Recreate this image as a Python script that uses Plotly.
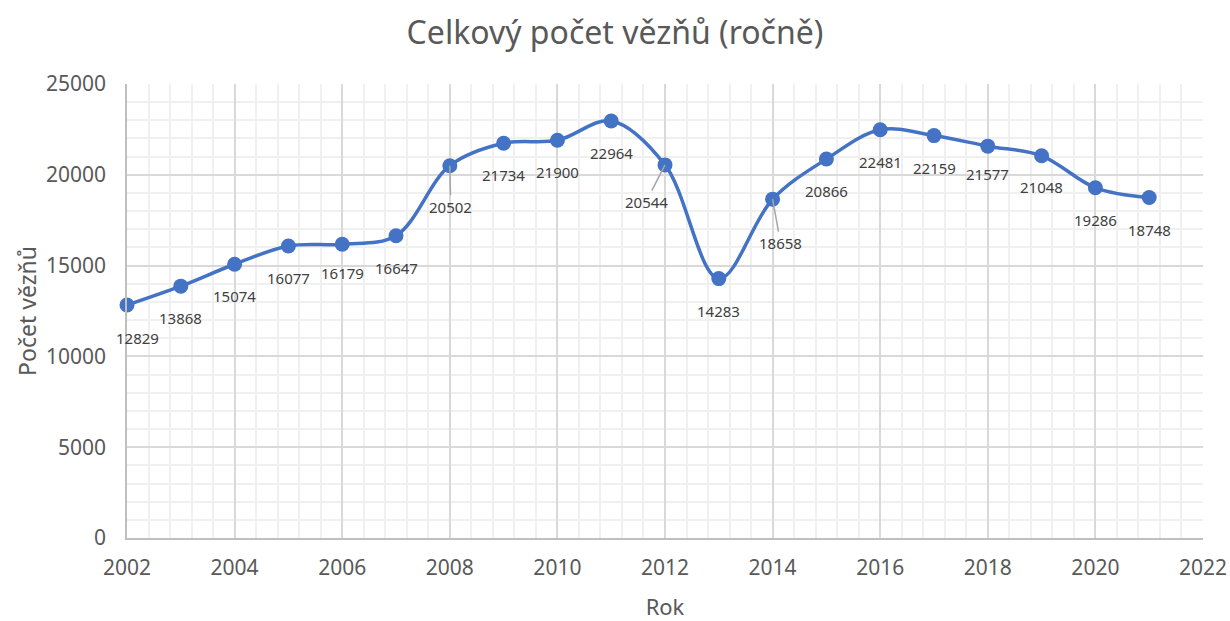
import plotly.graph_objects as go

years = [2002, 2003, 2004, 2005, 2006, 2007, 2008, 2009, 2010, 2011,
         2012, 2013, 2014, 2015, 2016, 2017, 2018, 2019, 2020, 2021]
prisoners = [12829, 13868, 15074, 16077, 16179, 16647, 20502, 21734, 21900, 22964,
             20544, 14283, 18658, 20866, 22481, 22159, 21577, 21048, 19286, 18748]

title_text = "Celkový počet vězňů (ročně)"
x_title = "Rok"
y_title = "Počet vězňů"

# label placement (pixel offsets from point) — style only
default_offset = (0, 32)
label_offsets = {2002: (10, 33), 2006: (0, 29), 2008: (1, 41), 2012: (-19, 37), 2014: (8, 44),
                 2018: (0, 28), 2019: (0, 31)}
leader_years = {2008, 2012, 2014}

FONT = "Noto Sans"
GRAY = "#595959"
BLUE = "#4472C4"

fig = go.Figure()
fig.add_trace(go.Scatter(
    x=years, y=prisoners, mode="lines+markers",
    line=dict(color=BLUE, width=3.5, shape="spline", smoothing=1),
    marker=dict(color=BLUE, size=15),
    hoverinfo="x+y", showlegend=False, cliponaxis=False,
))

annotations = []
for yr, v in zip(years, prisoners):
    dx, dy = label_offsets.get(yr, default_offset)
    annotations.append(dict(
        x=yr, y=v, xref="x", yref="y", text=str(v),
        showarrow=True, ax=dx, ay=dy, axref="pixel", ayref="pixel",
        arrowhead=0, arrowwidth=1.5,
        arrowcolor="#A6A6A6" if yr in leader_years else "rgba(0,0,0,0)",
        standoff=0, startstandoff=0,
        font=dict(family=FONT, size=15, color="#404040"),
    ))

fig.update_layout(
    width=1230, height=621,
    paper_bgcolor="white", plot_bgcolor="white",
    margin=dict(l=127, r=27, t=84, b=83, autoexpand=False),
    title=dict(text=title_text, x=0.5, xanchor="center", y=0.947, yanchor="middle",
               font=dict(family=FONT, size=32, color=GRAY)),
    font=dict(family=FONT, color=GRAY),
    annotations=annotations,
    xaxis=dict(
        range=[2002, 2022], tick0=2002, dtick=2, tickformat="d", automargin=False,
        showgrid=True, gridcolor="#D9D9D9", gridwidth=1.5,
        minor=dict(tick0=2002, dtick=0.4, showgrid=True, gridcolor="#F0F0F0", gridwidth=1.5),
        showline=True, linecolor="#BFBFBF", linewidth=1.5,
        zeroline=False, ticks="", ticklabelstandoff=10,
        tickfont=dict(family=FONT, size=21, color=GRAY),
        title=dict(text=x_title, font=dict(family=FONT, size=22, color=GRAY), standoff=24),
    ),
    yaxis=dict(
        range=[0, 25000], tick0=0, dtick=5000, tickformat="d", automargin=False,
        showgrid=True, gridcolor="#D9D9D9", gridwidth=1.5,
        minor=dict(tick0=0, dtick=1000, showgrid=True, gridcolor="#F0F0F0", gridwidth=1.5),
        showline=True, linecolor="#BFBFBF", linewidth=1.5,
        zeroline=False, ticks="", ticklabelstandoff=15,
        tickfont=dict(family=FONT, size=21, color=GRAY),
        title=dict(text=y_title, font=dict(family=FONT, size=23, color=GRAY), standoff=3),
    ),
)

# remove the default 8px page margin so the 1230x621 figure fills the window
fig.write_html(
    "out.html",
    config={"displayModeBar": False},
    post_script="document.body.style.margin='0';document.body.style.overflow='hidden';",
)
